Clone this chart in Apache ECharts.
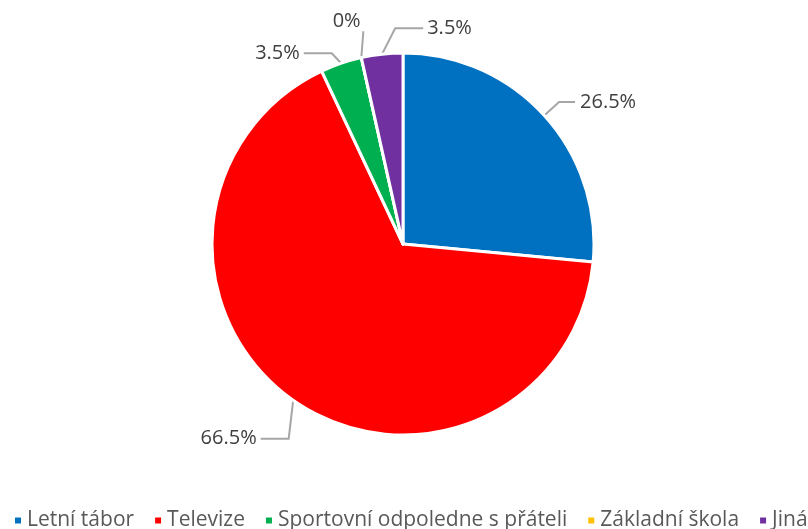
<!DOCTYPE html>
<html>
<head>
<meta charset="utf-8">
<script src="https://cdn.jsdelivr.net/npm/echarts@6/dist/echarts.min.js"></script>
<style>
  html, body { margin: 0; padding: 0; background: #fff; }
  #chart { width: 808px; height: 529px; }
</style>
</head>
<body>
<div id="chart"></div>
<script>
const categories = ['Letní tábor', 'Televize', 'Sportovní odpoledne s přáteli', 'Základní škola', 'Jiná']
const shares = [26.5, 66.5, 3.5, 0, 3.5]
const colors = ['#0070C0', '#FF0000', '#00B050', '#FFC000', '#7030A0']
// label nudges so the small top slices spread out like in the source chart
const labelShift = [[0, 0], [-4, 22], [44, -25], [71, -35], [113, -6]]

function placeLabel(p) {
  const [dx, dy] = labelShift[p.dataIndex]
  if (!dx && !dy) return {}
  const r = p.labelRect
  const x = r.x + dx
  const y = r.y + dy
  const p0 = p.labelLinePoints && p.labelLinePoints[0]
  if (!p0) return { dx, dy }
  let end, bend
  if (p0[0] > x - 6 && p0[0] < x + r.width + 10) {
    end = [p0[0] + 2, y + r.height]
    bend = end
  } else if (p0[0] < x) {
    end = [x - 4, y + r.height / 2]
    bend = [end[0] - 28, end[1]]
  } else {
    end = [x + r.width + 4, y + r.height / 2]
    bend = [end[0] + 28, end[1]]
  }
  return { dx, dy, labelLinePoints: [p0, bend, end] }
}

const chart = echarts.init(document.getElementById('chart'))
chart.setOption({
  backgroundColor: '#fff',
  color: colors,
  animation: false,
  legend: {
    bottom: -7,
    left: 8,
    width: 1200,
    itemWidth: 8,
    itemHeight: 8,
    itemGap: 19,
    icon: 'rect',
    textStyle: { color: '#595959', fontSize: 21, fontFamily: 'Open Sans' },
    data: categories,
  },
  series: [
    {
      type: 'pie',
      center: [403, 244],
      radius: 191,
      startAngle: 90,
      clockwise: true,
      stillShowZeroSum: true,
      itemStyle: { borderColor: '#fff', borderWidth: 3 },
      label: {
        formatter: '{c}%',
        color: '#404040',
        fontSize: 20,
        fontFamily: 'Open Sans',
      },
      labelLine: {
        length: 20,
        length2: 16,
        lineStyle: { color: '#a6a6a6', width: 2 },
      },
      labelLayout: placeLabel,
      data: categories.map((name, i) => ({ name, value: shares[i] })),
    },
  ],
})
</script>
</body>
</html>
